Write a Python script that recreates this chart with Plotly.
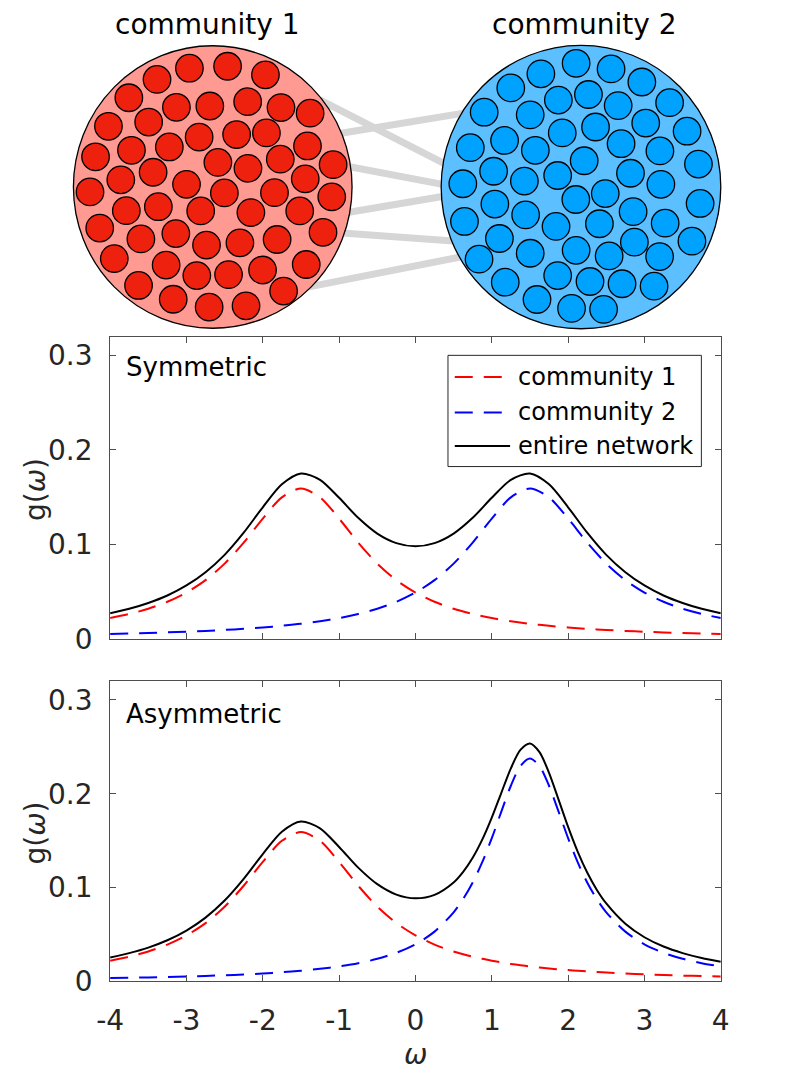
import plotly.graph_objects as go

W, H = 789, 1083

# ---------------- data: distributions g(omega) ----------------
omega_sym = [-4.0, -3.75, -3.5, -3.25, -3.0, -2.75, -2.5, -2.25, -2.0, -1.75, -1.5, -1.25,
             -1.0, -0.75, -0.5, -0.25, 0.0, 0.25, 0.5, 0.75, 1.0, 1.25, 1.5, 1.75,
             2.0, 2.25, 2.5, 2.75, 3.0, 3.25, 3.5, 3.75, 4.0]

sym_c1 = [0.0220, 0.0263, 0.0318, 0.0392, 0.0490, 0.0621, 0.0796, 0.1019, 0.1273, 0.1498, 0.1592, 0.1498,
          0.1273, 0.1019, 0.0796, 0.0621, 0.0490, 0.0392, 0.0318, 0.0263, 0.0220, 0.0186, 0.0159, 0.0138,
          0.0120, 0.0106, 0.0094, 0.0084, 0.0075, 0.0068, 0.0061, 0.0056, 0.0051]
sym_c2 = [0.0051, 0.0056, 0.0061, 0.0068, 0.0075, 0.0084, 0.0094, 0.0106, 0.0120, 0.0138, 0.0159, 0.0186,
          0.0220, 0.0263, 0.0318, 0.0392, 0.0490, 0.0621, 0.0796, 0.1019, 0.1273, 0.1498, 0.1592, 0.1498,
          0.1273, 0.1019, 0.0796, 0.0621, 0.0490, 0.0392, 0.0318, 0.0263, 0.0220]
sym_total = [0.0270, 0.0318, 0.0380, 0.0459, 0.0565, 0.0705, 0.0889, 0.1124, 0.1393, 0.1636, 0.1751, 0.1684,
             0.1493, 0.1281, 0.1114, 0.1013, 0.0979, 0.1013, 0.1114, 0.1281, 0.1493, 0.1684, 0.1751, 0.1636,
             0.1393, 0.1124, 0.0889, 0.0705, 0.0565, 0.0459, 0.0380, 0.0318, 0.0270]

omega_asym = [-4.0, -3.75, -3.5, -3.25, -3.0, -2.75, -2.5, -2.25, -2.0, -1.75, -1.5, -1.25,
              -1.0, -0.75, -0.5, -0.25, 0.0, 0.25, 0.5, 0.625, 0.75, 0.875, 1.0, 1.125, 1.25, 1.375,
              1.5, 1.625, 1.75, 1.875, 2.0, 2.125, 2.25, 2.375, 2.5, 2.75, 3.0, 3.25, 3.5, 3.75, 4.0]
asym_c1 = [0.0220, 0.0263, 0.0318, 0.0392, 0.0490, 0.0621, 0.0796, 0.1019, 0.1273, 0.1498, 0.1592, 0.1498,
           0.1273, 0.1019, 0.0796, 0.0621, 0.0490, 0.0392, 0.0318, 0.0289, 0.0263, 0.0240, 0.0220, 0.0202,
           0.0186, 0.0172, 0.0159, 0.0148, 0.0138, 0.0128, 0.0120, 0.0113, 0.0106, 0.0099, 0.0094,
           0.0084, 0.0075, 0.0068, 0.0061, 0.0056, 0.0051]
asym_c2 = [0.0035, 0.0038, 0.0042, 0.0046, 0.0052, 0.0058, 0.0065, 0.0073, 0.0084, 0.0097, 0.0113, 0.0133,
           0.0159, 0.0193, 0.0240, 0.0304, 0.0395, 0.0530, 0.0736, 0.0878, 0.1054, 0.1270, 0.1526, 0.1809,
           0.2085, 0.2295, 0.2375, 0.2295, 0.2085, 0.1809, 0.1526, 0.1270, 0.1054, 0.0878, 0.0736,
           0.0530, 0.0395, 0.0304, 0.0240, 0.0193, 0.0159]
asym_total = [0.0254, 0.0301, 0.0360, 0.0438, 0.0541, 0.0679, 0.0861, 0.1092, 0.1357, 0.1595, 0.1704, 0.1631,
              0.1432, 0.1212, 0.1036, 0.0925, 0.0885, 0.0922, 0.1054, 0.1167, 0.1317, 0.1510, 0.1745, 0.2010,
              0.2271, 0.2467, 0.2535, 0.2443, 0.2223, 0.1937, 0.1646, 0.1383, 0.1160, 0.0977, 0.0830,
              0.0614, 0.0470, 0.0371, 0.0301, 0.0249, 0.0210]

x_tickvals = [-4, -3, -2, -1, 0, 1, 2, 3, 4]
x_ticktext = ["-4", "-3", "-2", "-1", "0", "1", "2", "3", "4"]
y_tickvals = [0, 0.1, 0.2, 0.3]
y_ticktext = ["0", "0.1", "0.2", "0.3"]

legend_labels = ["community 1", "community 2", "entire network"]
panel_labels = ["Symmetric", "Asymmetric"]
community_titles = ["community 1", "community 2"]

# ---------------- data: network diagram (picture pixel units) ----------------
big_cx = [204.7, 584.0]
big_cy = [190.0, 190.0]
big_r = [143.5, 144.0]

c1_x = [180.7, 220.0, 259.0, 147.3, 118.3, 167.3, 201.7, 240.7, 275.0, 305.0, 97.3, 138.7,
        190.7, 229.3, 260.0, 302.3, 84.0, 121.0, 160.0, 210.0, 241.0, 274.3, 328.7, 110.0,
        143.3, 177.7, 216.7, 268.3, 300.0, 78.3, 327.3, 115.7, 148.7, 192.3, 244.0, 294.3,
        88.3, 130.7, 166.7, 198.3, 232.7, 271.0, 318.3, 103.3, 156.7, 188.3, 221.0, 256.0,
        301.0, 128.3, 164.0, 201.0, 239.0, 277.7]
c1_y = [69.3, 67.3, 76.0, 80.7, 99.3, 109.0, 107.7, 103.3, 109.3, 115.0, 128.3, 124.0,
        139.3, 136.7, 135.0, 148.3, 159.3, 152.7, 149.3, 165.0, 171.0, 161.7, 167.3, 182.7,
        175.0, 187.3, 196.0, 195.7, 181.7, 195.0, 200.0, 214.0, 210.0, 214.3, 216.0, 214.3,
        231.7, 242.7, 237.3, 249.0, 246.7, 243.3, 236.0, 262.7, 269.3, 280.0, 279.0, 274.3,
        268.7, 290.0, 304.0, 312.0, 310.7, 295.7]

c2_x = [579.0, 615.0, 542.7, 646.7, 511.7, 560.7, 591.7, 622.3, 675.3, 484.3, 531.7, 650.7,
        599.0, 564.7, 693.3, 470.0, 505.3, 537.0, 625.3, 665.3, 587.3, 705.0, 494.0, 560.0,
        635.0, 462.3, 525.7, 666.3, 609.0, 578.7, 495.3, 706.7, 637.7, 464.0, 527.0, 670.7,
        558.3, 603.0, 500.0, 639.0, 579.0, 698.3, 479.0, 531.7, 613.0, 665.0, 560.0, 593.3,
        506.0, 626.3, 659.3, 538.7, 574.3, 607.3]
c2_y = [64.3, 70.0, 75.0, 83.3, 89.3, 101.7, 96.0, 107.3, 104.3, 114.0, 116.7, 125.0,
        129.0, 135.0, 133.3, 150.0, 142.7, 152.7, 146.0, 153.3, 163.3, 166.7, 174.0, 178.3,
        176.0, 186.7, 184.0, 187.3, 196.7, 202.7, 207.3, 206.7, 215.0, 225.0, 218.3, 226.7,
        230.0, 227.3, 242.3, 246.0, 254.3, 245.0, 263.3, 257.3, 260.0, 260.7, 280.0, 286.0,
        286.7, 288.3, 290.7, 304.3, 313.3, 314.3]

link_x0 = [324, 339, 349, 349, 341, 311]
link_y0 = [106, 135, 170, 215, 237, 290]
link_x1 = [445, 463, 445, 445, 453, 455]
link_y1 = [167, 115, 188, 199, 245, 262]

# ---------------- styles ----------------
FONT = "DejaVu Sans"
AX_COLOR = "#262626"
BOX_COLOR = "#4d4d4d"
RED = "#ff0000"
BLUE = "#0000ff"
DASH = "18px,11px"

PX_L, PX_R = 99, 728
P1_T, P1_B = 342, 649
P2_T, P2_B = 692, 997


def px_x(v):
    return v / W


def px_y(v):
    return 1 - v / H


fig = go.Figure()

panels = [("x", "y", omega_sym, sym_c1, sym_c2, sym_total),
          ("x2", "y2", omega_asym, asym_c1, asym_c2, asym_total)]
for xa, ya, om, g1, g2, gt in panels:
    fig.add_trace(go.Scatter(x=om, y=g1, mode="lines", xaxis=xa, yaxis=ya, showlegend=False,
                             line=dict(color=RED, width=2, dash=DASH, shape="spline", smoothing=0.8),
                             hoverinfo="skip"))
    fig.add_trace(go.Scatter(x=om, y=g2, mode="lines", xaxis=xa, yaxis=ya, showlegend=False,
                             line=dict(color=BLUE, width=2, dash=DASH, shape="spline", smoothing=0.8),
                             hoverinfo="skip"))
    fig.add_trace(go.Scatter(x=om, y=gt, mode="lines", xaxis=xa, yaxis=ya, showlegend=False,
                             line=dict(color="black", width=2, shape="spline", smoothing=0.8),
                             hoverinfo="skip"))

fig.add_trace(go.Scatter(x=c1_x, y=c1_y, mode="markers", xaxis="x3", yaxis="y3", showlegend=False,
                         marker=dict(size=27.5, color="#ee200e", line=dict(color="black", width=1.3)),
                         hoverinfo="skip", cliponaxis=False))
fig.add_trace(go.Scatter(x=c2_x, y=c2_y, mode="markers", xaxis="x3", yaxis="y3", showlegend=False,
                         marker=dict(size=27.5, color="#00a2ff", line=dict(color="black", width=1.3)),
                         hoverinfo="skip", cliponaxis=False))

shapes = []
for x0, y0, x1, y1 in zip(link_x0, link_y0, link_x1, link_y1):
    dx, dy = x1 - x0, y1 - y0
    n = (dx * dx + dy * dy) ** 0.5
    ex, ey = 10 * dx / n, 10 * dy / n
    shapes.append(dict(type="line", xref="x3", yref="y3", x0=x0 - ex, y0=y0 - ey, x1=x1 + ex, y1=y1 + ey,
                       line=dict(color="#d6d6d6", width=7), layer="below"))
for cx, cy, r, fill in zip(big_cx, big_cy, big_r, ["#ff9a92", "#5cbfff"]):
    shapes.append(dict(type="circle", xref="x3", yref="y3", x0=cx - r, x1=cx + r, y0=cy - r, y1=cy + r,
                       fillcolor=fill, line=dict(color="black", width=1.3), layer="below"))

LG_L, LG_R, LG_T, LG_B = 447, 708, 361, 474
shapes.append(dict(type="rect", xref="paper", yref="paper", x0=px_x(LG_L), x1=px_x(LG_R),
                   y0=px_y(LG_B), y1=px_y(LG_T), line=dict(color=AX_COLOR, width=1),
                   fillcolor="white", layer="above"))
legend_rows = [383, 419, 453]
legend_styles = [dict(color=RED, width=2, dash=DASH), dict(color=BLUE, width=2, dash=DASH),
                 dict(color="black", width=2)]
annotations = []
for row, lab, st in zip(legend_rows, legend_labels, legend_styles):
    shapes.append(dict(type="line", xref="paper", yref="paper", x0=px_x(454), x1=px_x(511),
                       y0=px_y(row), y1=px_y(row), line=st, layer="above"))
    annotations.append(dict(text=lab, xref="paper", yref="paper", x=px_x(517), y=px_y(row),
                            xanchor="left", yanchor="middle", showarrow=False,
                            font=dict(family=FONT, size=24, color="black")))

for lab, yy in zip(panel_labels, [373, 725]):
    annotations.append(dict(text=lab, xref="paper", yref="paper", x=px_x(113), y=px_y(yy),
                            xanchor="left", yanchor="middle", showarrow=False,
                            font=dict(family=FONT, size=26, color="black")))

for lab, cx in zip(community_titles, [199, 588]):
    annotations.append(dict(text=lab, xref="paper", yref="paper", x=px_x(cx), y=px_y(25),
                            xanchor="center", yanchor="middle", showarrow=False,
                            font=dict(family=FONT, size=28, color="black")))

for yc in [(P1_T + P1_B) / 2 + 2, (P2_T + P2_B) / 2 + 2]:
    annotations.append(dict(text="g(<i>ω</i>)", xref="paper", yref="paper", x=px_x(22), y=px_y(yc),
                            xanchor="center", yanchor="middle", textangle=-90, showarrow=False,
                            font=dict(family=FONT, size=28, color=AX_COLOR)))
annotations.append(dict(text="<i>ω</i>", xref="paper", yref="paper", x=px_x((PX_L + PX_R) / 2), y=px_y(1071),
                        xanchor="center", yanchor="middle", showarrow=False,
                        font=dict(family=FONT, size=28, color=AX_COLOR)))

common_x = dict(range=[-4, 4], tickvals=x_tickvals, ticktext=x_ticktext, ticks="inside", ticklen=6,
                tickcolor=BOX_COLOR, showline=True, linecolor=BOX_COLOR, linewidth=1, mirror="ticks",
                showgrid=False, zeroline=False, domain=[px_x(PX_L), px_x(PX_R)],
                tickfont=dict(family=FONT, size=28, color=AX_COLOR), fixedrange=True)
common_y = dict(range=[0, 0.32], tickvals=y_tickvals, ticktext=y_ticktext, ticks="inside", ticklen=6,
                tickcolor=BOX_COLOR, showline=True, linecolor=BOX_COLOR, linewidth=1, mirror="ticks",
                showgrid=False, zeroline=False, tickfont=dict(family=FONT, size=28, color=AX_COLOR),
                ticklabelstandoff=11, fixedrange=True)

fig.update_layout(
    width=W, height=H,
    margin=dict(l=0, r=0, t=0, b=0),
    paper_bgcolor="white", plot_bgcolor="rgba(0,0,0,0)",
    xaxis=dict(common_x, anchor="y", showticklabels=False),
    yaxis=dict(common_y, anchor="x", domain=[px_y(P1_B), px_y(P1_T)]),
    xaxis2=dict(common_x, anchor="y2", showticklabels=True, ticklabelstandoff=14),
    yaxis2=dict(common_y, anchor="x2", domain=[px_y(P2_B), px_y(P2_T)]),
    xaxis3=dict(domain=[0, 1], range=[0, W], visible=False, anchor="y3", fixedrange=True),
    yaxis3=dict(domain=[px_y(340), 1], range=[340, 0], visible=False, anchor="x3", fixedrange=True),
    shapes=shapes,
    annotations=annotations,
    showlegend=False,
)

post = ("document.documentElement.style.margin='0';document.body.style.margin='0';"
        "document.body.style.padding='0';document.body.style.overflow='hidden';"
        "var d=document.getElementById('{plot_id}');"
        "if(d){d.style.position='absolute';d.style.left='0px';d.style.top='0px';}")

fig.write_html("out.html", config={"displayModeBar": False}, post_script=post)
